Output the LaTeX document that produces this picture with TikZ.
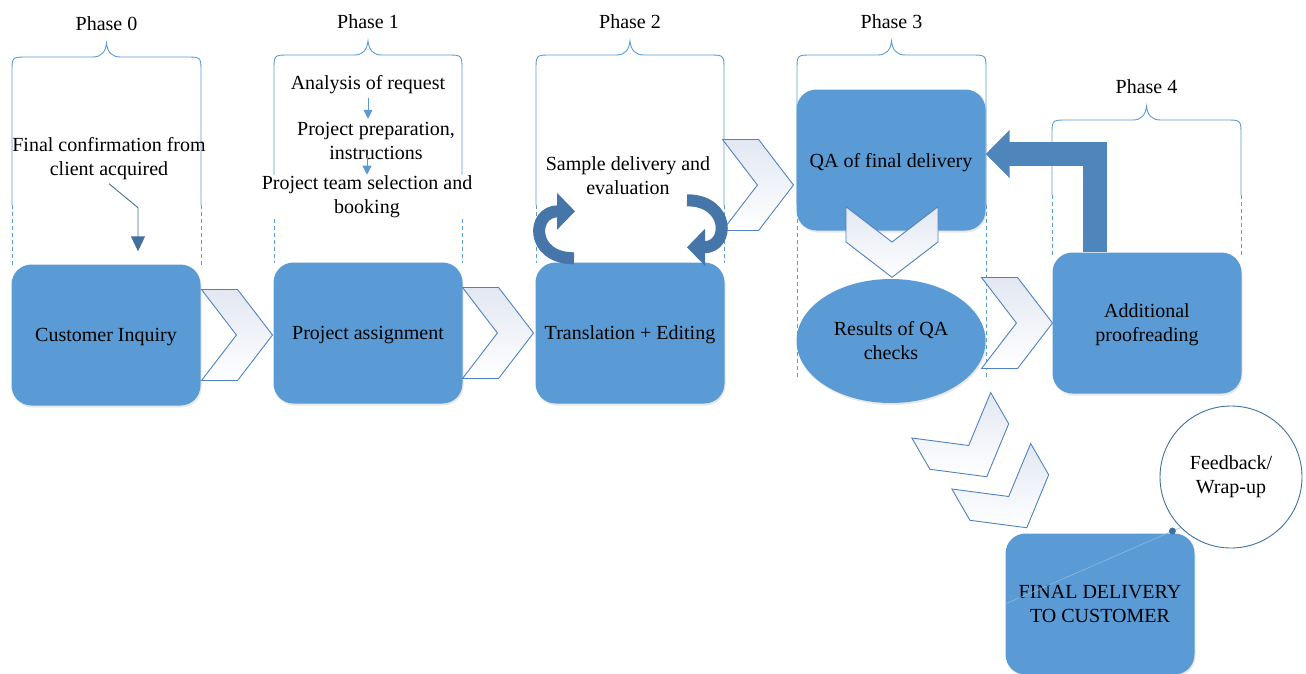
\documentclass[tikz,border=0pt]{standalone}
\usepackage{fontspec}
\setmainfont{Liberation Serif}
\usetikzlibrary{positioning,arrows.meta,calc,shapes.symbols,shapes.geometric,shadows}
\definecolor{boxblue}{HTML}{5B9BD5}
\definecolor{chevline}{HTML}{4E82C2}
\definecolor{chevgray}{HTML}{E2E7F2}
\definecolor{darkblue}{HTML}{41719C}
\definecolor{curlblue}{HTML}{4675AA}
\definecolor{arrowblue}{HTML}{4E85BA}

\begin{document}
\begin{tikzpicture}[x=1pt, y=-1pt,
  every node/.style={font=\fontsize{20}{24}\selectfont, align=center},
  phasebox/.style={rectangle, rounded corners=20pt, fill=boxblue, minimum width=189pt, minimum height=141pt, inner sep=2pt,
    text depth=0pt, drop shadow={opacity=0.18, shadow xshift=1pt, shadow yshift=-2pt}},
  chevron/.style={signal, signal from=west, signal to=east, signal pointer angle=105, draw=chevline, line width=0.9pt,
    top color=chevgray, bottom color=white, minimum width=71pt, minimum height=91pt, inner sep=0pt},
  bracket/.style={draw=boxblue, line width=0.9pt},
  guide/.style={draw=boxblue, line width=0.9pt, dash pattern=on 4pt off 3pt},
  smallarrow/.style={draw=boxblue, line width=0.9pt, -{Triangle[width=9pt,length=9pt]}},
  pointer/.style={draw=darkblue, line width=0.9pt, -{Triangle[width=14pt,length=15pt]}},
  curl/.style={draw=curlblue, line width=12pt, -{Triangle[width=36pt,length=18pt]}},
  bigarrow/.style={draw=arrowblue, line width=24pt, -{Triangle[width=47pt,length=24pt]}}
  ]
  \useasboundingbox (0,0) rectangle (1306,673);

  \foreach \n/\l/\r/\t/\s/\d in {0/12/201/57/205/268, 1/274/462/55/205/263, 2/536/724/55/205/263,
      3/797/986/55/205/380, 4/1052/1241/120/195/255}
  {
    \draw[bracket] (\l,\s) -- (\l,\t+15) .. controls (\l,\t) .. (\l+15,\t)
      -- ({(\l+\r)/2-14},\t) .. controls ({(\l+\r)/2-5},\t) and ({(\l+\r)/2-1},\t-5) .. ({(\l+\r)/2},\t-14)
      .. controls ({(\l+\r)/2+1},\t-5) and ({(\l+\r)/2+5},\t) .. ({(\l+\r)/2+14},\t)
      -- (\r-15,\t) .. controls (\r,\t) .. (\r,\t+15) -- (\r,\s);
    \draw[guide] (\l,\s) -- (\l,\d) (\r,\s) -- (\r,\d);
    \node (ph\n) at ({(\l+\r)/2},\t-33) {Phase \n};
  }

  \node (conf) at (109,159) {Final confirmation from\\client acquired};
  \node (anal) at (368,85) {Analysis of request};
  \node (prep) at (376,141) {Project preparation,\\instructions};
  \node[fill=white, inner sep=1pt] (team) at (367,197) {Project team selection and\\booking};
  \node (sample) at (628,176) {Sample delivery and\\evaluation};

  \node[phasebox] (ci) at (106,335) {Customer Inquiry};
  \node[phasebox] (pa) at (368,333) {Project assignment};
  \node[phasebox] (te) at (630,333) {Translation + Editing};
  \node[phasebox] (qa) at (891,160) {QA of final delivery};
  \node[ellipse, fill=boxblue, minimum width=189pt, minimum height=124pt, inner sep=0pt,
    drop shadow={opacity=0.18, shadow xshift=1pt, shadow yshift=-2pt}] (res) at (891,341) {Results of QA\\checks};
  \node[phasebox] (ap) at (1147,323) {Additional\\proofreading};
  \node[phasebox] (fin) at (1100,604) {FINAL DELIVERY\\TO CUSTOMER};
  \node[circle, draw=darkblue, line width=0.9pt, fill=white, minimum size=142pt, inner sep=0pt] (fb) at (1231,477) {Feedback/\\Wrap-up};

  \node[chevron] (c01) at (237,335) {};
  \node[chevron] (c12) at (498,333) {};
  \node[chevron] (c23) at (758,185) {};
  \node[chevron, rotate=-90, minimum width=70pt, minimum height=92pt] (c3q) at (892,242) {};
  \node[chevron] (c34) at (1017,323) {};
  \node[chevron, rotate=-60] (cf1) at (969,446) {};
  \node[chevron, rotate=-60] (cf2) at (1009,497) {};

  \draw[pointer] (conf.south) -- ++(29,24) -- ([xshift=32pt,yshift=13pt]ci.north);
  \draw[smallarrow] (anal.south) -- (anal.south |- prep.north);
  \draw[smallarrow] ([yshift=-14pt]prep.center -| team.north) -- (team.north);

  \draw[curl] ([xshift=-56pt,yshift=4pt]te.north) .. controls +(-44,0) and +(-44,0) .. ([xshift=-55pt,yshift=51pt]te.north);
  \draw[curl] ([xshift=57pt,yshift=62pt]te.north) .. controls +(43,0) and +(43,0) .. ([xshift=57pt,yshift=15pt]te.north);

  \draw[bigarrow] ([xshift=-52pt]ap.north) |- ([yshift=6pt]qa.east);

  \draw[boxblue!70!white, line width=0.6pt] (fin.west) -- (fb.225);
  \fill[darkblue] ($(fin.west)!0.954!(fb.225)$) circle (3.5pt);
\end{tikzpicture}
\end{document}
